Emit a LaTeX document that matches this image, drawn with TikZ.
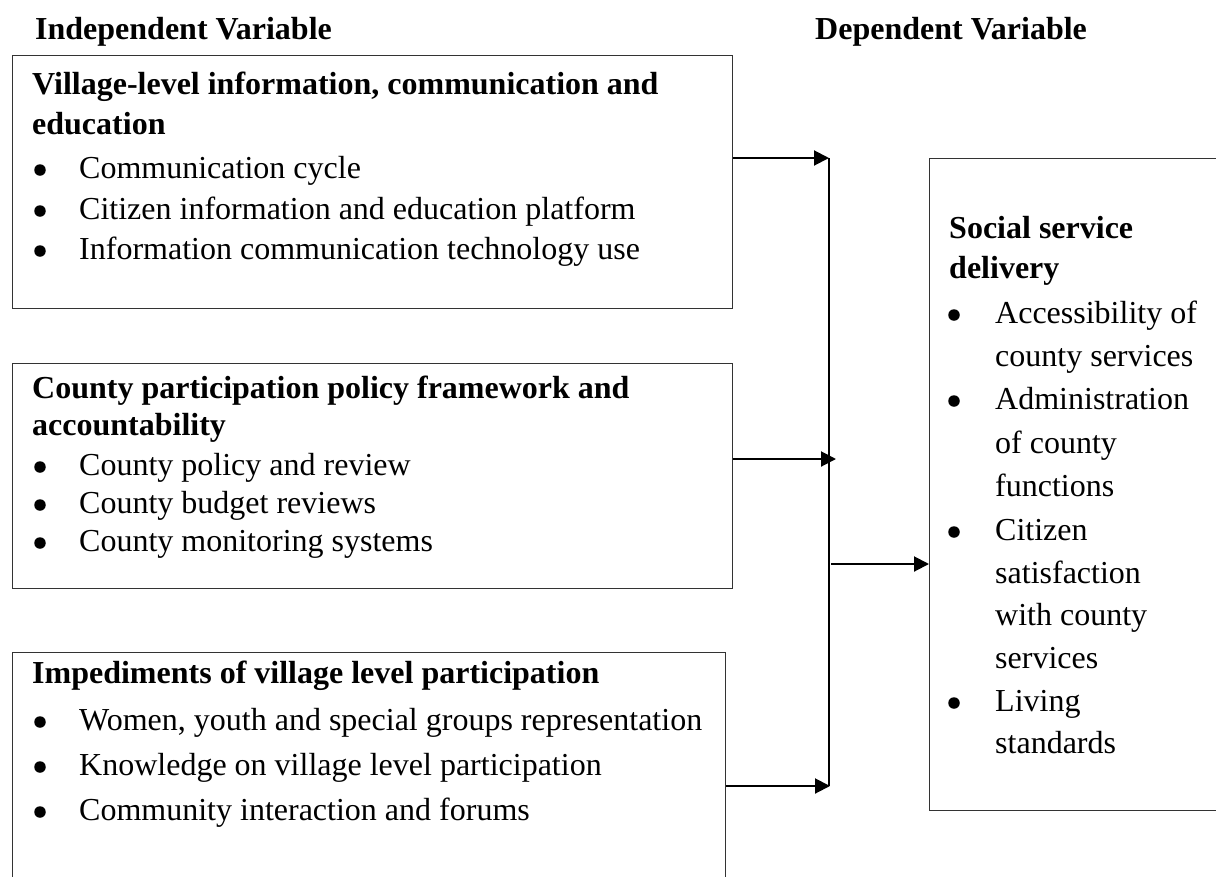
\documentclass[tikz,border=0pt]{standalone}
\usepackage{fontspec}
\setmainfont{Liberation Serif}
\usetikzlibrary{arrows.meta}
\begin{document}
\begin{tikzpicture}[x=1pt,y=-1pt,
  box/.style={draw=black!80,line width=1.4pt,anchor=north west,inner sep=0pt},
  txt/.style={anchor=base west,inner sep=0pt,font=\fontsize{32pt}{40pt}\selectfont},
  head/.style={txt,font=\fontsize{32pt}{40pt}\selectfont\bfseries},
  dot/.style={circle,fill=black,inner sep=0pt,minimum size=11.5pt},
  conn/.style={line width=2pt,black},
  arr/.style={conn,-{Triangle[length=15pt,width=15pt]}}]
\clip (0,0) rectangle (1216,876);
\fill[white] (0,0) rectangle (1216,876);

% column headings
\node[head] (hind) at (35,39) {Independent Variable};
\node[head] (hdep) at (815,39) {Dependent Variable};

% independent variable boxes
\node[box,minimum width=720pt,minimum height=253pt] (b1) at (12,55) {};
\node[box,minimum width=720pt,minimum height=225pt] (b2) at (12,363) {};
\node[box,minimum width=713pt,minimum height=260pt] (b3) at (12,652) {};
% dependent variable box
\node[box,minimum width=400pt,minimum height=652pt] (dv) at (929,158) {};

% box 1 text
\node[head] (t11) at (32,94) {Village-level information, communication and};
\node[head] (t12) at (32,134) {education};
\node[dot] (u13) at (40,170) {}; \node[txt] (t13) at (79,178) {Communication cycle};
\node[dot] (u14) at (40,211) {}; \node[txt] (t14) at (79,219) {Citizen information and education platform};
\node[dot] (u15) at (40,251) {}; \node[txt] (t15) at (79,259) {Information communication technology use};

% box 2 text
\node[head] (t21) at (32,398) {County participation policy framework and};
\node[head] (t22) at (32,435) {accountability};
\node[dot] (u23) at (40,467) {}; \node[txt] (t23) at (79,475) {County policy and review};
\node[dot] (u24) at (40,505) {}; \node[txt] (t24) at (79,513) {County budget reviews};
\node[dot] (u25) at (40,543) {}; \node[txt] (t25) at (79,551) {County monitoring systems};

% box 3 text
\node[head] (t31) at (32,683) {Impediments of village level participation};
\node[dot] (u32) at (40,722) {}; \node[txt] (t32) at (79,730) {Women, youth and special groups representation};
\node[dot] (u33) at (40,767) {}; \node[txt] (t33) at (79,775) {Knowledge on village level participation};
\node[dot] (u34) at (40,812) {}; \node[txt] (t34) at (79,820) {Community interaction and forums};

% dependent variable text
\node[head] (d1) at (949,238) {Social service};
\node[head] (d2) at (949,278) {delivery};
\node[dot] (v3) at (954,315) {}; \node[txt] (d3) at (995,323) {Accessibility of};
\node[txt] (d4) at (995,366) {county services};
\node[dot] (v5) at (954,401) {}; \node[txt] (d5) at (995,409) {Administration};
\node[txt] (d6) at (995,453) {of county};
\node[txt] (d7) at (995,496) {functions};
\node[dot] (v8) at (954,532) {}; \node[txt] (d8) at (995,540) {Citizen};
\node[txt] (d9) at (995,583) {satisfaction};
\node[txt] (d10) at (995,625) {with county};
\node[txt] (d11) at (995,668) {services};
\node[dot] (v12) at (954,703) {}; \node[txt] (d12) at (995,711) {Living};
\node[txt] (d13) at (995,753) {standards};

% collecting bus and its junctions
\coordinate (j1) at (829,158);
\coordinate (j2) at (836,459);
\coordinate (j3) at (830,786);
\coordinate (jb) at (829,786);
\coordinate (jo) at (831,564);

\draw[conn] (j1) -- (jb);
\draw[arr] (b1.east |- j1) -- (j1);
\draw[arr] (b2.east |- j2) -- (j2);
\draw[arr] (b3.east |- j3) -- (j3);
\draw[arr] (jo) -- (dv.west |- jo);
\end{tikzpicture}
\end{document}
